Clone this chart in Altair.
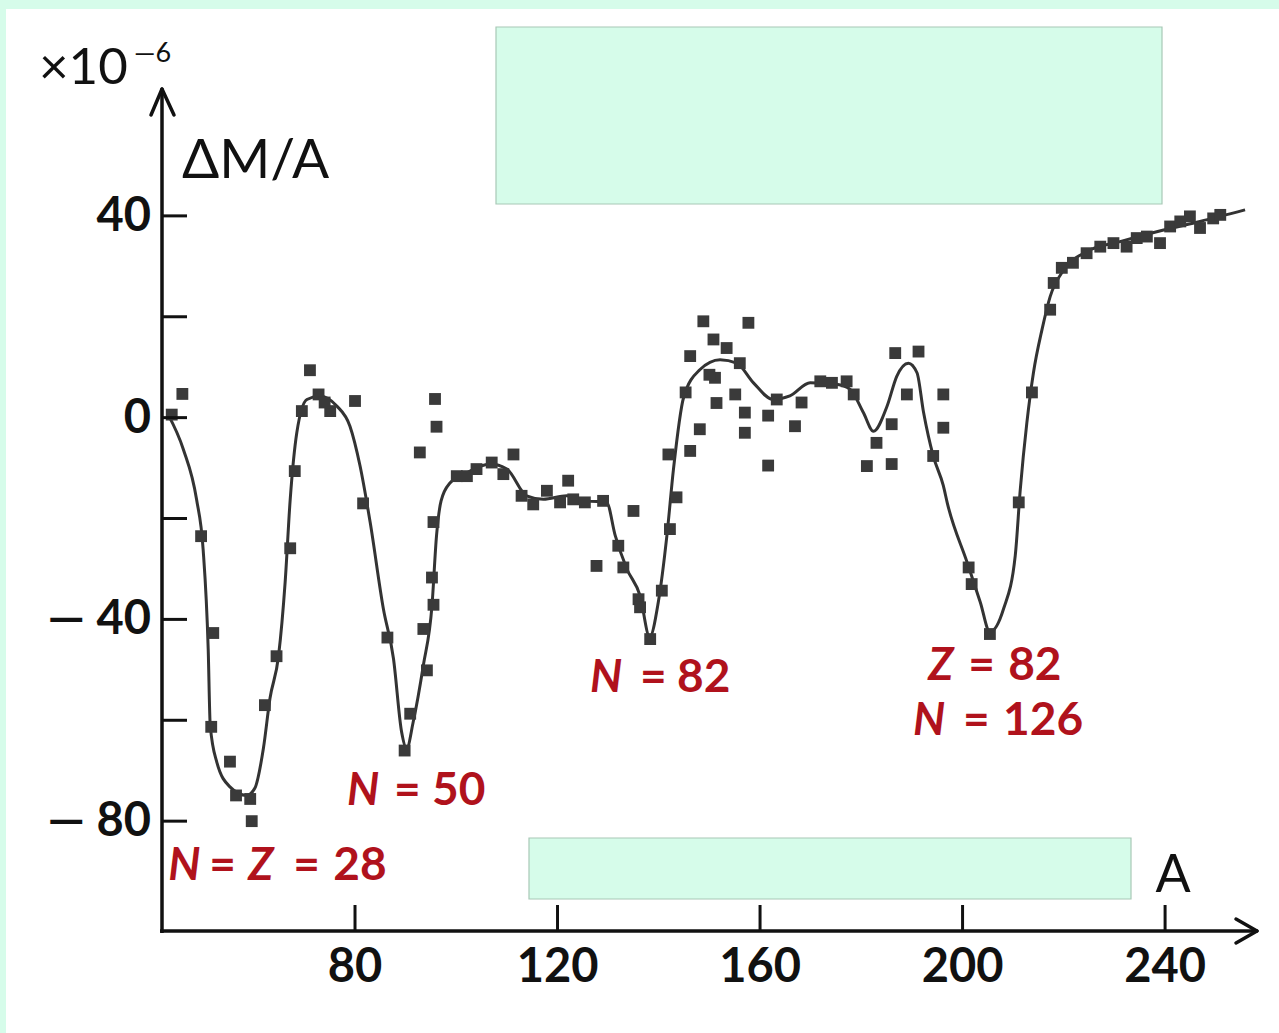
import altair as alt
import pandas as pd

# ---------------- data ----------------
# experimental points (A, dM/A x 1e-6)
pts_A = [43.8, 45.9, 49.6, 52.0, 51.6, 55.3, 56.5, 59.3, 59.6, 62.2, 64.5, 67.2, 68.1, 69.5,
         71.1, 72.8, 75.1, 74.0, 80.0, 81.6, 86.4, 90.9, 89.8, 94.2, 93.5, 95.5, 95.2, 95.5,
         95.8, 96.1, 92.8,
         100.1, 102.1, 104.0, 107.0, 109.3, 111.3, 112.9, 115.2, 117.9, 120.5, 122.1, 123.1,
         125.4, 129.0, 135.0, 127.7, 132.0, 133.0, 136.0, 136.3, 138.3, 140.6, 142.2, 143.5,
         141.9, 146.2, 145.3,
         146.2, 148.8, 150.8, 148.1, 151.1, 150.0, 151.4, 153.4, 155.1, 156.0, 157.0, 157.0,
         157.7, 161.6, 161.6, 163.3, 166.9, 168.2, 171.9, 174.2, 177.1, 178.5, 183.0, 181.1,
         186.0, 186.0, 189.0, 186.7, 191.3, 196.2, 196.2, 194.2,
         201.2, 201.8, 205.4, 211.1, 213.7, 217.3, 218.0, 219.6, 221.8, 224.5, 227.2, 229.8,
         232.4, 234.4, 236.4, 239.0, 241.0, 243.0, 244.9, 246.9, 249.5, 250.9]
pts_v = [0.6, 4.7, -23.5, -42.7, -61.3, -68.2, -74.9, -75.6, -80.0, -57.0, -47.3, -25.9, -10.6, 1.3,
         9.4, 4.6, 1.3, 3.0, 3.3, -17.0, -43.6, -58.7, -66.0, -50.1, -41.9, -37.1, -31.7, -20.7,
         3.7, -1.8, -6.9,
         -11.6, -11.6, -10.2, -8.9, -11.2, -7.3, -15.5, -17.2, -14.5, -16.8, -12.5, -16.2,
         -16.8, -16.5, -18.5, -29.4, -25.4, -29.7, -36.0, -37.6, -43.9, -34.3, -22.1, -15.8,
         -7.3, -6.6, 5.0,
         12.2, 19.1, 15.5, -2.3, 7.9, 8.5, 2.9, 13.8, 4.6, 10.8, 1.0, -3.0,
         18.8, 0.4, -9.5, 3.6, -1.7, 3.0, 7.2, 6.9, 7.2, 4.6, -5.0, -9.6,
         -9.2, -1.3, 4.6, 12.8, 13.1, 4.6, -2.0, -7.6,
         -29.7, -33.0, -42.9, -16.8, 5.0, 21.4, 26.7, 29.7, 30.7, 32.6, 33.9, 34.6,
         33.9, 35.6, 35.9, 34.6, 37.9, 38.9, 39.9, 37.6, 39.5, 40.2]

# smooth curve through the points
line_A = [43.1, 46.1, 48.7, 50.0, 51.0, 51.4, 52.7, 55.3, 58.6, 60.2, 61.9, 63.2, 64.9, 66.2,
          67.2, 68.5, 70.5, 73.1, 76.4, 79.0, 81.0, 83.0, 85.6, 87.6, 89.2, 90.2, 91.5, 93.5,
          95.2, 96.1, 97.0, 98.8, 102.1, 106.7, 110.0, 113.9, 117.2, 121.8, 125.8, 129.7,
          131.4, 133.7, 136.3, 138.2, 139.9, 141.6, 142.9, 144.9, 148.1, 152.1, 155.4, 158.7,
          162.6, 165.9, 169.9, 175.1, 177.8, 180.4, 182.4, 185.1, 187.0, 189.3, 191.0, 192.3,
          194.2, 196.2, 197.0, 200.9, 203.5, 205.4, 208.1, 210.4, 211.4, 212.7, 214.0, 215.7,
          217.3, 220.0, 224.5, 231.1, 239.7, 246.9, 255.8]
line_v = [0.6, -6.3, -16.2, -26.1, -45.8, -61.0, -68.3, -73.2, -74.9, -73.5, -65.6, -55.7, -47.2, -32.6,
          -16.2, -3.0, 3.6, 4.3, 2.3, -1.7, -9.6, -20.8, -37.9, -47.8, -62.3, -65.6, -60.3, -49.1,
          -37.3, -23.4, -16.5, -12.9, -10.9, -9.2, -10.2, -15.5, -16.2, -15.5, -16.5, -16.8,
          -23.4, -30.0, -35.3, -43.5, -36.6, -23.4, -10.2, 4.0, 9.5, 11.5, 10.8, 6.9,
          3.6, 4.3, 6.9, 6.6, 5.6, 1.0, -2.7, 2.3, 8.2, 10.8, 8.9, 1.0,
          -7.6, -13.5, -17.0, -28.7, -36.6, -42.5, -37.9, -27.4, -14.2, -1.0, 8.9, 17.5,
          24.0, 29.3, 32.9, 34.9, 37.2, 38.9, 41.2]

x_ticks = [80, 120, 160, 200, 240]
x_tick_labels = ["80", "120", "160", "200", "240"]
y_ticks = [40, 20, 0, -20, -40, -60, -80]
y_label_values = [40, 0, -40, -80]
y_label_texts = ["40", "0", "\u2014 40", "\u2014 80"]

# annotations: segments (text, left A, baseline value, italic?)
ann_text = ["N", "=", "Z", "=", "28",
            "N", "=", "50",
            "N", "=", "82",
            "Z", "=", "82",
            "N", "=", "126"]
ann_A = [43.1, 51.2, 58.9, 67.8, 75.7,
         78.4, 87.7, 95.2,
         126.4, 136.3, 143.6,
         193.2, 201.1, 209.0,
         190.2, 200.1, 208.0]
ann_v = [-91.7] * 5 + [-76.8] * 3 + [-54.4] * 3 + [-52.0] * 3 + [-62.9] * 3
ann_italic = [True, False, True, False, False,
              True, False, False,
              True, False, False,
              True, False, False,
              True, False, False]

# ---------------- chart ----------------
W, H = 1279, 1033
xs = alt.Scale(domain=[9.88, 262.5], nice=False, zero=False)
ys = alt.Scale(domain=[-122.0, 82.8], nice=False, zero=False)

MINT = "#d6fcea"
INK = "#111111"
RED = "#b0121c"
FONT = "Lato"

one = pd.DataFrame({"k": [0]})
pts = pd.DataFrame({"A": pts_A, "v": pts_v})
curve = pd.DataFrame({"A": line_A, "v": line_v})
xt = pd.DataFrame({"A": x_ticks, "lab": x_tick_labels})
yt = pd.DataFrame({"v": y_ticks})
yl = pd.DataFrame({"v": y_label_values, "lab": y_label_texts})
ann = pd.DataFrame({"t": ann_text, "A": ann_A, "v": ann_v, "it": ann_italic})

X = lambda f="A": alt.X(f + ":Q", scale=xs, axis=None)
Y = lambda f="v": alt.Y(f + ":Q", scale=ys, axis=None)

panel = alt.Chart(one).mark_rect(color="white").encode(
    x=alt.value(6), x2=alt.value(W), y=alt.value(9), y2=alt.value(H))

box_top = alt.Chart(one).mark_rect(fill=MINT, stroke="#a8c8b6", strokeWidth=1.2).encode(
    x=alt.value(496), x2=alt.value(1162), y=alt.value(27), y2=alt.value(204))
box_bot = alt.Chart(one).mark_rect(fill=MINT, stroke="#a8c8b6", strokeWidth=1.2).encode(
    x=alt.value(529), x2=alt.value(1131), y=alt.value(838), y2=alt.value(899))

AX_W = 3.5
y_axis = alt.Chart(one).mark_rule(color=INK, strokeWidth=AX_W).encode(
    x=alt.value(162), y=alt.value(89), y2=alt.value(933))
x_axis = alt.Chart(one).mark_rule(color=INK, strokeWidth=AX_W).encode(
    x=alt.value(160), x2=alt.value(1257), y=alt.value(931))
y_arr1 = alt.Chart(one).mark_rule(color=INK, strokeWidth=AX_W, strokeCap="round").encode(
    x=alt.value(162), y=alt.value(89), x2=alt.value(151), y2=alt.value(115))
y_arr2 = alt.Chart(one).mark_rule(color=INK, strokeWidth=AX_W, strokeCap="round").encode(
    x=alt.value(162), y=alt.value(89), x2=alt.value(174), y2=alt.value(115))
x_arr1 = alt.Chart(one).mark_rule(color=INK, strokeWidth=AX_W, strokeCap="round").encode(
    x=alt.value(1257), y=alt.value(931), x2=alt.value(1236), y2=alt.value(919))
x_arr2 = alt.Chart(one).mark_rule(color=INK, strokeWidth=AX_W, strokeCap="round").encode(
    x=alt.value(1257), y=alt.value(931), x2=alt.value(1236), y2=alt.value(943))

x_tick_marks = alt.Chart(xt).mark_rule(color=INK, strokeWidth=3).encode(
    x=X(), y=alt.value(905), y2=alt.value(931))
y_tick_marks = alt.Chart(yt).mark_rule(color=INK, strokeWidth=3).encode(
    y=Y(), x=alt.value(162), x2=alt.value(187))

x_tick_text = alt.Chart(xt).mark_text(font=FONT, fontSize=47, fontWeight="bold", color=INK,
                                      align="center", baseline="middle").encode(
    x=X(), y=alt.value(968), text="lab:N")
y_tick_text = alt.Chart(yl).mark_text(font=FONT, fontSize=47, fontWeight="bold", color=INK,
                                      align="right", baseline="middle", dy=1).encode(
    y=Y(), x=alt.value(151), text="lab:N")

times10 = alt.Chart(one).mark_text(font=FONT, fontSize=51, color=INK, align="left",
                                   baseline="alphabetic", text="\u00d710").encode(
    x=alt.value(39), y=alt.value(84))
exp6 = alt.Chart(one).mark_text(font=FONT, fontSize=27, color=INK, align="left",
                                baseline="alphabetic", text="\u20146").encode(
    x=alt.value(134), y=alt.value(62))
ylab = alt.Chart(one).mark_text(font=FONT, fontSize=55, color=INK, align="left",
                                baseline="alphabetic", text="\u0394M/A").encode(
    x=alt.value(182), y=alt.value(178))
xlab = alt.Chart(one).mark_text(font=FONT, fontSize=52, color=INK, align="center",
                                baseline="alphabetic", text="A").encode(
    x=alt.value(1173), y=alt.value(892))

curve_layer = alt.Chart(curve).mark_line(color="#333333", strokeWidth=3,
                                          interpolate="monotone").encode(
    x=X(), y=Y(), order="A:Q")
pts_layer = alt.Chart(pts).mark_square(size=140, color="#3a3a3a", opacity=1).encode(
    x=X(), y=Y())

ann_it = alt.Chart(ann).transform_filter("datum.it").mark_text(
    font=FONT, fontSize=45, fontWeight="bold", fontStyle="italic", color=RED,
    align="left", baseline="alphabetic").encode(x=X(), y=Y(), text="t:N")
ann_up = alt.Chart(ann).transform_filter("!datum.it").mark_text(
    font=FONT, fontSize=46, fontWeight="bold", color=RED,
    align="left", baseline="alphabetic").encode(x=X(), y=Y(), text="t:N")

chart = alt.layer(
    panel, box_top,
    curve_layer, pts_layer,
    y_axis, x_axis, y_arr1, y_arr2, x_arr1, x_arr2,
    x_tick_marks, y_tick_marks, x_tick_text, y_tick_text,
    times10, exp6, ylab, xlab,
    ann_it, ann_up,
    box_bot,
).properties(
    width=W, height=H, padding=0, background=MINT,
    autosize=alt.AutoSizeParams(type="none")
).configure_view(strokeWidth=0)

chart.save("out.html", embed_options={"renderer": "svg", "actions": False})
